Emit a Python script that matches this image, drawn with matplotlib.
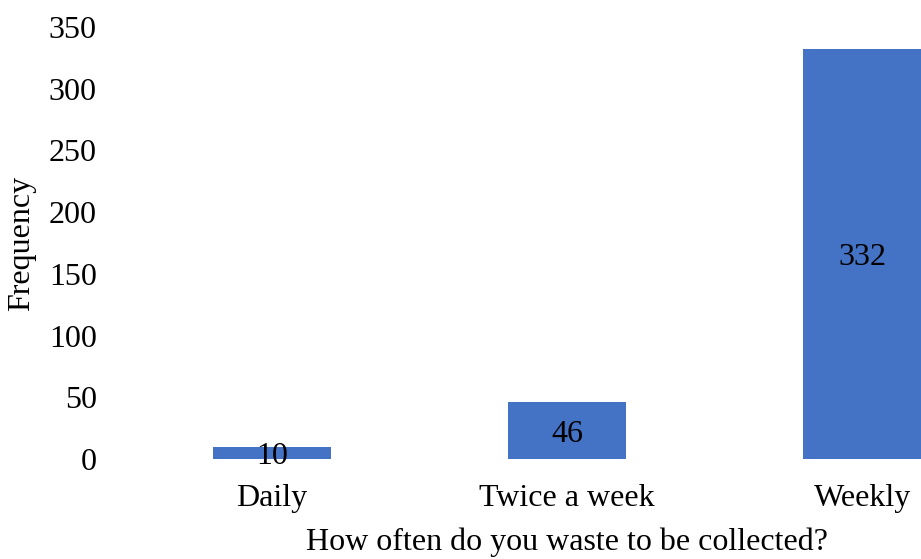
import matplotlib
matplotlib.use("Agg")
import matplotlib.pyplot as plt

categories = ["Daily", "Twice a week", "Weekly"]
values = [10, 46, 332]
yticks = [0, 50, 100, 150, 200, 250, 300, 350]

plt.rcParams['font.family'] = ['Liberation Serif', 'DejaVu Serif']
fs = 23

fig = plt.figure(figsize=(9.21, 5.59), dpi=100)
ax = fig.add_axes([124.5/921, 1-459/559, 885/921, (459-27)/559])
x = list(range(len(categories)))
bars = ax.bar(x, values, width=0.4, color="#4472C4")
for xi, v in zip(x, values):
    ax.text(xi, v/2, str(v), ha="center", va="center_baseline", fontsize=fs, color="black")
ax.set_xlim(-0.5, 2.5)
ax.set_ylim(0, 350)
ax.set_yticks(yticks)
ax.set_xticks(x)
ax.set_xticklabels(categories)
ax.tick_params(axis="both", length=0, labelsize=fs)
ax.tick_params(axis="y", pad=20)
ax.tick_params(axis="x", pad=18)
for s in ax.spines.values():
    s.set_visible(False)
fig.text(567/921, 1-542/559, "How often do you waste to be collected?", fontsize=fs,
         ha="center", va="center")
fig.text(22/921, 1-243/559, "Frequency", fontsize=fs, rotation=90,
         ha="center", va="center")
fig.savefig("out.png", dpi=100)
